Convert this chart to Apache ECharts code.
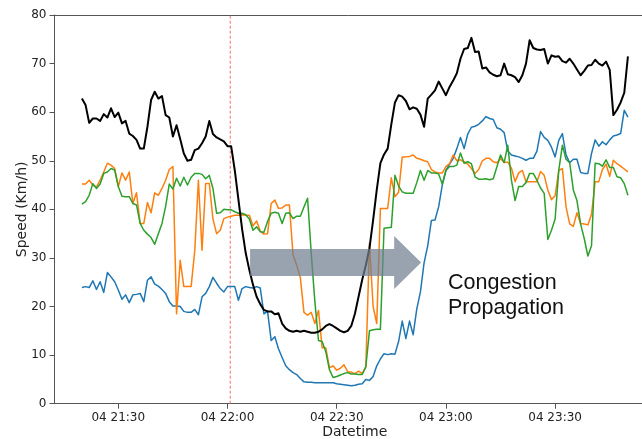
<!DOCTYPE html>
<html>
<head>
<meta charset="utf-8">
<script src="https://cdn.jsdelivr.net/npm/echarts@6/dist/echarts.min.js"></script>
<style>
  html, body { margin: 0; padding: 0; background: #fff; overflow: hidden; }
  #chart { width: 642px; height: 439px; }
</style>
</head>
<body>
<div id="chart"></div>
<script>
// Time is measured in minutes after 21:00 on day 04; one reading per minute from 21:20.
const startMinute = 20;
const stepMinutes = 1;

const xTickMinutes = [30, 60, 90, 120, 150];
const xTickLabels = ['04 21:30', '04 22:00', '04 22:30', '04 23:00', '04 23:30'];
const yTicks = [0, 10, 20, 30, 40, 50, 60, 70, 80];

// Moment marked by the dashed red line (minutes after 21:00)
const incidentMinute = 60.75;

// Arrow showing the congestion moving downstream: minutes and speed of its tail and tip
const arrowFrom = [66.2, 29.05];
const arrowTo = [113.2, 29.05];

// Speeds (km/h) at four detectors
const speedBlue = [
  23.9, 24.1, 23.9, 25.3, 23.5, 25.1, 22.9, 27.0, 26.1, 25.1,
  23.4, 21.5, 22.4, 20.8, 22.4, 22.5, 22.7, 21.0, 25.4, 26.1,
  24.6, 24.2, 23.5, 22.7, 21.0, 20.1, 20.1, 20.0, 19.0, 18.8,
  18.8, 19.4, 18.3, 22.0, 22.7, 24.1, 26.0, 24.8, 23.7, 23.0,
  24.1, 24.1, 24.1, 21.3, 23.7, 24.1, 23.9, 23.8, 24.1, 23.8,
  18.5, 19.0, 13.0, 13.8, 11.3, 9.5, 7.8, 7.0, 6.4, 6.0,
  5.2, 4.5, 4.4, 4.4, 4.3, 4.3, 4.3, 4.3, 4.3, 4.3,
  4.1, 4.0, 3.9, 3.8, 3.7, 3.8, 4.0, 4.1, 5.0, 4.8,
  5.6, 7.8, 9.2, 10.3, 10.1, 10.3, 10.2, 12.8, 17.0, 13.4,
  17.0, 14.2, 19.5, 23.0, 29.0, 32.5, 37.7, 37.8, 40.5, 45.0,
  48.0, 49.3, 50.5, 52.5, 54.8, 52.5, 55.5, 56.9, 57.1, 57.5,
  58.2, 59.1, 58.7, 58.5, 56.8, 56.5, 55.8, 52.0, 51.2, 51.0,
  50.8, 50.5, 50.1, 50.5, 50.5, 52.0, 56.0, 54.8, 54.2, 52.8,
  50.8, 54.2, 55.6, 51.2, 49.6, 50.3, 50.3, 47.6, 47.4, 47.4,
  51.5, 54.3, 53.0, 53.9, 53.3, 54.3, 55.1, 55.3, 55.6, 60.4,
  59.0
];

const speedOrange = [
  45.2, 45.2, 46.0, 45.0, 44.6, 46.0, 47.7, 49.5, 49.1, 48.4,
  44.7, 47.5, 46.0, 47.7, 41.2, 43.4, 37.1, 37.1, 41.4, 39.3,
  43.4, 42.9, 44.3, 46.0, 48.2, 48.8, 18.5, 29.5, 24.1, 24.1,
  24.1, 31.5, 46.0, 31.6, 45.3, 45.3, 38.0, 35.0, 35.7, 38.1,
  38.4, 38.6, 38.8, 38.8, 38.9, 38.8, 38.8, 36.6, 37.6, 35.5,
  34.9, 35.0, 41.2, 41.9, 40.2, 40.3, 40.9, 40.9, 30.6, 28.5,
  26.0, 18.8, 18.2, 18.8, 16.5, 19.2, 11.5, 11.5, 7.4, 7.8,
  6.9, 7.3, 8.0, 6.6, 6.5, 6.2, 6.7, 6.2, 7.6, 33.0,
  20.0, 16.5, 40.2, 40.2, 40.2, 46.5, 42.6, 43.5, 50.8, 50.8,
  50.9, 51.2, 50.5, 50.3, 50.0, 49.8, 48.2, 47.7, 47.5, 47.5,
  48.8, 49.4, 51.2, 50.0, 50.2, 49.8, 49.3, 48.4, 47.4, 48.2,
  50.0, 50.5, 50.5, 49.8, 49.6, 50.4, 49.7, 49.7, 48.5, 45.7,
  47.5, 48.0, 45.7, 45.7, 45.7, 45.7, 47.8, 47.0, 44.0, 42.0,
  42.8, 48.0, 48.4, 40.5, 37.0, 36.5, 39.3, 37.1, 37.0, 36.8,
  39.0, 45.7, 45.7, 48.2, 49.3, 46.8, 50.1, 49.4, 48.9, 48.3,
  47.7
];

const speedGreen = [
  41.1, 41.6, 42.9, 45.3, 44.3, 45.2, 47.4, 47.7, 48.4, 48.1,
  44.7, 42.7, 42.6, 42.6, 41.2, 40.9, 37.1, 35.7, 34.9, 34.2,
  32.8, 35.0, 37.1, 40.6, 45.2, 44.2, 46.4, 44.8, 46.6, 45.0,
  46.6, 47.4, 47.4, 47.2, 46.3, 47.0, 44.3, 39.2, 39.3, 40.0,
  39.9, 39.9, 39.5, 39.2, 39.2, 38.9, 38.0, 35.7, 36.4, 35.4,
  35.3, 37.5, 39.2, 39.4, 39.2, 37.1, 39.2, 39.3, 38.1, 38.6,
  38.6, 40.5, 42.3, 31.0, 21.0, 13.0, 12.8, 10.7, 7.0, 5.4,
  5.6, 5.9, 6.2, 6.4, 6.1, 6.1, 6.0, 6.0, 7.6, 15.0,
  15.2, 15.3, 15.3, 36.1, 36.2, 36.3, 47.0, 44.8, 43.6, 43.3,
  43.3, 43.3, 45.5, 48.0, 46.0, 48.0, 47.5, 47.5, 47.3, 45.2,
  48.0, 48.8, 48.8, 49.1, 51.6, 49.5, 49.8, 49.4, 46.7, 46.2,
  46.2, 46.3, 46.1, 46.3, 48.7, 51.2, 49.6, 53.2, 46.0, 41.8,
  44.7, 44.7, 45.5, 47.4, 47.4, 46.0, 44.4, 43.3, 33.8, 35.7,
  38.0, 48.0, 53.2, 50.3, 49.6, 44.0, 41.8, 37.0, 34.0, 30.4,
  32.5, 49.5, 49.4, 48.9, 50.2, 48.6, 48.6, 46.7, 46.5, 45.3,
  42.9
];

const speedBlack = [
  62.8, 61.5, 57.8, 58.7, 58.7, 58.2, 59.6, 58.9, 60.8, 59.0,
  59.9, 57.7, 58.2, 55.6, 55.1, 54.3, 52.5, 52.5, 57.0, 62.5,
  64.2, 62.8, 63.3, 59.4, 58.9, 55.0, 57.3, 54.5, 51.5, 50.0,
  50.2, 52.2, 52.5, 53.6, 55.0, 58.2, 55.5, 54.8, 54.4, 54.0,
  53.0, 53.0, 48.0, 42.0, 36.0, 31.0, 27.5, 24.5, 22.0, 20.5,
  19.3, 19.0, 19.0, 18.4, 18.6, 16.5, 15.5, 15.0, 14.8, 15.0,
  14.8, 15.0, 14.8, 14.6, 14.6, 14.8, 15.3, 16.0, 16.4, 16.0,
  15.5, 15.0, 14.7, 15.0, 16.0, 18.5, 22.0, 25.5, 28.5, 32.0,
  37.8, 44.0, 49.5, 51.3, 52.5, 57.5, 62.0, 63.5, 63.2, 62.3,
  60.6, 61.0, 60.7, 59.5, 57.0, 62.8, 63.6, 64.5, 66.3, 64.9,
  63.5, 65.2, 66.5, 68.0, 71.0, 73.0, 73.2, 75.3, 72.4, 72.5,
  69.0, 69.2, 68.2, 67.7, 67.4, 67.6, 70.0, 67.8, 67.6, 67.2,
  66.2, 67.6, 70.0, 74.8, 73.2, 72.9, 72.8, 73.0, 70.0, 71.7,
  71.4, 71.5, 70.5, 70.2, 71.0, 70.0, 68.8, 67.6, 68.5, 69.6,
  69.7, 70.8, 70.0, 69.6, 70.4, 68.7, 59.4, 60.5, 62.0, 64.0,
  71.5
];

function pairs(values) {
  return values.map((v, i) => [startMinute + i * stepMinutes, v]);
}

const axisFont = 'DejaVu Sans';
const axisColor = '#555';
const xMin = 12.47;
const xMax = 173.87;

const chart = echarts.init(document.getElementById('chart'), null, { renderer: 'canvas' });

const lineSeries = (name, values, color, width, z) => ({
  name: name,
  type: 'line',
  data: pairs(values),
  showSymbol: false,
  symbol: 'none',
  lineStyle: { color: color, width: width, join: 'round' },
  itemStyle: { color: color },
  z: z,
  silent: true,
  animation: false
});

chart.setOption({
  animation: false,
  backgroundColor: '#ffffff',
  grid: { left: 54.5, right: 0, top: 15, bottom: 35.3, containLabel: false, outerBoundsMode: 'none' },
  xAxis: [
    {
      type: 'value',
      min: xMin,
      max: xMax,
      position: 'bottom',
      splitLine: { show: false },
      axisLine: { show: true, onZero: false, lineStyle: { color: axisColor, width: 1 } },
      axisTick: { show: true, inside: false, length: 5, lineStyle: { color: axisColor }, customValues: xTickMinutes },
      axisLabel: {
        show: true,
        customValues: xTickMinutes,
        margin: 8,
        color: '#222',
        fontFamily: axisFont,
        fontSize: 12,
        formatter: (v) => xTickLabels[xTickMinutes.indexOf(v)] || ''
      },
      name: 'Datetime',
      nameLocation: 'middle',
      nameGap: 22,
      nameMoveOverlap: false,
      nameTextStyle: { color: '#222', fontFamily: axisFont, fontSize: 14, padding: [0, 0, 0, 13] }
    },
    {
      type: 'value',
      min: xMin,
      max: xMax,
      position: 'top',
      splitLine: { show: false },
      axisLine: { show: true, onZero: false, lineStyle: { color: axisColor, width: 1 } },
      axisTick: { show: false },
      axisLabel: { show: false }
    }
  ],
  yAxis: {
    type: 'value',
    min: 0,
    max: 80,
    interval: 10,
    splitLine: { show: false },
    axisLine: { show: true, onZero: false, lineStyle: { color: axisColor, width: 1 } },
    axisTick: { show: true, inside: false, length: 5, lineStyle: { color: axisColor } },
    axisLabel: {
      margin: 8,
      color: '#222',
      fontFamily: axisFont,
      fontSize: 12,
      formatter: (v) => (yTicks.indexOf(v) >= 0 ? String(v) : '')
    },
    name: 'Speed (Km/h)',
    nameLocation: 'middle',
    nameRotate: 90,
    nameGap: 25,
    nameMoveOverlap: false,
    nameTextStyle: { color: '#222', fontFamily: axisFont, fontSize: 14 }
  },
  series: [
    lineSeries('blue', speedBlue, '#1f77b4', 1.5, 2),
    lineSeries('orange', speedOrange, '#ff7f0e', 1.5, 3),
    lineSeries('green', speedGreen, '#2ca02c', 1.5, 4),
    lineSeries('black', speedBlack, '#000000', 2, 5),
    {
      // dashed vertical marker at the incident time
      name: 'incident',
      type: 'line',
      data: [[incidentMinute, 0], [incidentMinute, 80]],
      showSymbol: false,
      symbol: 'none',
      lineStyle: { color: '#ff6a6a', width: 1, type: [3, 2] },
      z: 1,
      silent: true,
      animation: false
    }
  ]
});

// Arrow drawn from data coordinates: shaft plus triangular head
function drawArrow() {
  const tail = chart.convertToPixel({ xAxisIndex: 0, yAxisIndex: 0 }, arrowFrom);
  const tip = chart.convertToPixel({ xAxisIndex: 0, yAxisIndex: 0 }, arrowTo);
  const shaftHalf = 13.5;
  const headHalf = 26.5;
  const headLen = 27;
  const neck = tip[0] - headLen;
  const cy = tail[1];
  const points = [
    [tail[0], cy - shaftHalf],
    [neck, cy - shaftHalf],
    [neck, cy - headHalf],
    [tip[0], tip[1]],
    [neck, cy + headHalf],
    [neck, cy + shaftHalf],
    [tail[0], cy + shaftHalf]
  ];
  chart.setOption({
    graphic: [
      {
        type: 'polygon',
        z: 100,
        silent: true,
        shape: { points: points },
        style: { fill: 'rgba(112,128,144,0.72)' }
      },
      {
        type: 'text',
        z: 101,
        left: 448,
        top: 271,
        silent: true,
        style: {
          text: 'Congestion\nPropagation',
          fill: '#111',
          font: '21.5px "Liberation Sans", Arial, sans-serif',
          lineHeight: 25
        }
      }
    ]
  });
}
drawArrow();
</script>
</body>
</html>
